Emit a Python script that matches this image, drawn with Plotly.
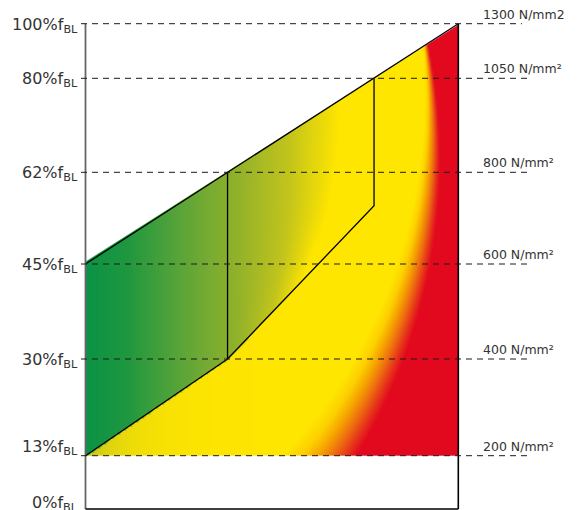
import numpy as np
import plotly.graph_objects as go

# ---------------- data ----------------
levels_pct = [0, 13, 30, 45, 62, 80, 100]                 # % of f_BL
level_pos = [0, 53.3, 150, 245, 336.7, 430.7, 485.3]      # vertical position of each level
stress_labels = ["", "200 N/mm²", "400 N/mm²", "600 N/mm²",
                 "800 N/mm²", "1050 N/mm²", "1300 N/mm2"]

# envelope of the coloured area (x = fraction of width)
env_x = [0, 0, 1, 1]
env_y = [53.3, 245, 485.3, 53.3]
# zone boundary polyline
zone_x = [0, 0.381, 0.774, 0.774]
zone_y = [53.3, 150, 303.3, 430.7]
# vertical divider
div_x = [0.381, 0.381]
div_y = [150, 336.7]

# ---------------- geometry / style constants ----------------
W = 372.8            # px per x unit
PX0 = 85.5           # page pixel of x = 0
PY0 = 509            # page pixel of y = 0
OFF = 8              # page body margin
PAGE_W, PAGE_H = 577, 510
FIG_W, FIG_H = PAGE_W - OFF, PAGE_H - OFF

def xd(p):  # page pixel -> x data
    return (p - PX0) / W

xr = [xd(OFF), xd(PAGE_W)]
yr = [PY0 - PAGE_H, PY0 - OFF]

# ---------------- gradient background ----------------
nx, ny = 186, 216
ybot, ytop = env_y[0], env_y[2]
xs = (np.arange(nx) + 0.5) / nx
ys = ybot + (np.arange(ny) + 0.5) * (ytop - ybot) / ny
X, Y = np.meshgrid(xs, ys)

xc, yc = -0.5727, 349.0
R = np.hypot((X - xc) * W, Y - yc)
theta = np.degrees(np.arctan2(yc - Y, (X - xc) * W))
r_y = 548 - 1.2 * theta
r_red = 567.0
s = np.clip((R - r_y) / (r_red - r_y), 0, 1)
t_lower = 0.5 + 0.5 * s - 0.1 * np.exp(-X * W / 40) * (1 - s)

diag = np.interp(X, zone_x[:3], zone_y[:3])
d_above = np.clip(Y - diag, 0, None)
glow = 0.35 * np.exp(-d_above / 35) * np.clip((X * W - 150) / 150, 0, 1)
t_upper = 0.5 * np.clip(X * W / 255 + glow, 0, 1)
upper = (X < zone_x[2]) & (Y > diag)
Z = np.round(np.where(upper, t_upper, t_lower), 3)

colorscale = [
    [0.00, "#0a9245"], [0.08, "#1f973f"], [0.20, "#62a637"], [0.30, "#93b22a"],
    [0.40, "#c2c41c"], [0.47, "#eedc08"], [0.50, "#ffe600"], [0.62, "#fdd000"],
    [0.72, "#f6a500"], [0.82, "#ee7010"], [0.92, "#e6341a"], [1.00, "#e2081e"],
]

fig = go.Figure()
fig.add_trace(go.Heatmap(x=xs, y=ys, z=Z, colorscale=colorscale, zmin=0, zmax=1,
                         zsmooth="best", showscale=False, hoverinfo="skip"))

# white mask above the envelope's top edge
fig.add_trace(go.Scatter(x=[-0.01, env_x[2] + 0.005, env_x[2] + 0.005, -0.01],
                         y=[env_y[1], env_y[2], env_y[2] + 15, env_y[2] + 15],
                         fill="toself", fillcolor="white", mode="none",
                         hoverinfo="skip", showlegend=False))

def line(x, y, color="black", width=1.3):
    fig.add_trace(go.Scatter(x=x, y=y, mode="lines",
                             line=dict(color=color, width=width),
                             hoverinfo="skip", showlegend=False))

line(env_x[1:3], env_y[1:3])                       # top edge
line(zone_x, zone_y)                               # zone boundary
line(div_x, div_y)                                 # divider
line([0, 0], [level_pos[-1], level_pos[0]], color="#666666", width=1.8)   # left axis
line([1, 1], [level_pos[-1], level_pos[0]], color="black", width=1.6)     # right axis
line([0, 1], [level_pos[0], level_pos[0]], color="black", width=1.6)      # bottom

shapes = []
annotations = []
for p, yp, lab in zip(levels_pct, level_pos, stress_labels):
    if p > 0:
        shapes.append(dict(type="line", xref="x", yref="y", x0=xd(81),
                           x1=xd(522 if p == 100 else 527),
                           y0=yp, y1=yp, layer="above",
                           line=dict(color="#1a1a1a", width=1, dash="6px,5px")))
    yshift = -1.5
    if p == 13:
        yshift = 8
    elif p == 0:
        yshift = 6
    annotations.append(dict(x=xd(80), y=yp, xref="x", yref="y",
                            text=f"{p}%f<sub>BL</sub>", showarrow=False,
                            xanchor="right", yanchor="middle", yshift=yshift,
                            font=dict(family="DejaVu Sans", size=16, color="#333333")))
    if lab:
        annotations.append(dict(x=xd(481), y=yp, xref="x", yref="y",
                                text=lab, showarrow=False, xanchor="left",
                                yanchor="bottom", yshift=0,
                                font=dict(family="DejaVu Sans", size=12.5, color="#333333")))

fig.update_layout(
    width=FIG_W, height=FIG_H,
    margin=dict(l=0, r=0, t=0, b=0, autoexpand=False),
    paper_bgcolor="white", plot_bgcolor="white",
    xaxis=dict(range=xr, visible=False, fixedrange=True),
    yaxis=dict(range=yr, visible=False, fixedrange=True),
    shapes=shapes, annotations=annotations, showlegend=False,
)

fig.write_html("out.html")
